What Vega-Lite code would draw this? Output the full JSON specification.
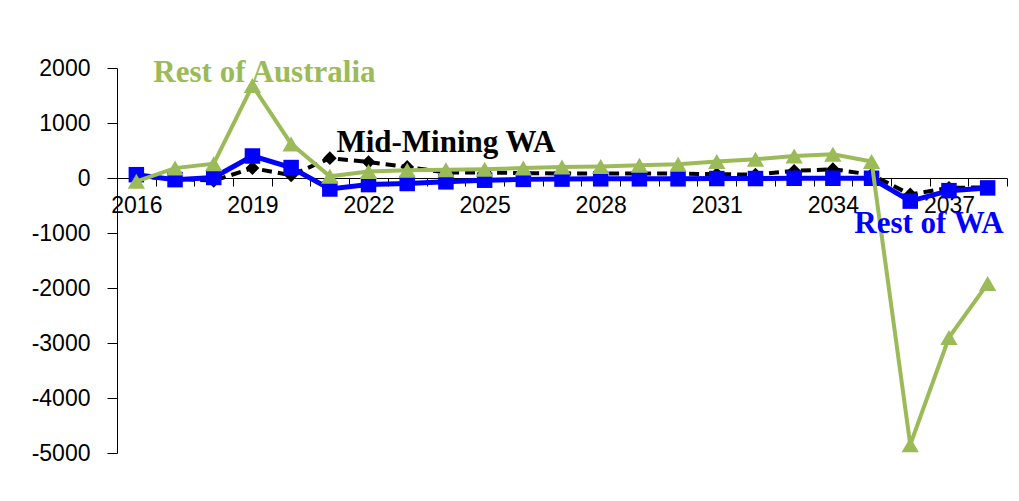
{
  "$schema": "https://vega.github.io/schema/vega-lite/v6.json",
  "width": 890,
  "height": 385,
  "autosize": {"type": "none"},
  "padding": {"left": 117, "top": 68, "right": 12, "bottom": 48},
  "background": "white",
  "config": {"view": {"stroke": null}, "font": "Liberation Sans"},
  "data": {
    "values": [
      {"year": "2016", "series": "Rest of Australia", "value": -60},
      {"year": "2017", "series": "Rest of Australia", "value": 180},
      {"year": "2018", "series": "Rest of Australia", "value": 260},
      {"year": "2019", "series": "Rest of Australia", "value": 1680},
      {"year": "2020", "series": "Rest of Australia", "value": 620},
      {"year": "2021", "series": "Rest of Australia", "value": 30},
      {"year": "2022", "series": "Rest of Australia", "value": 120},
      {"year": "2023", "series": "Rest of Australia", "value": 140},
      {"year": "2024", "series": "Rest of Australia", "value": 150},
      {"year": "2025", "series": "Rest of Australia", "value": 160},
      {"year": "2026", "series": "Rest of Australia", "value": 180},
      {"year": "2027", "series": "Rest of Australia", "value": 200},
      {"year": "2028", "series": "Rest of Australia", "value": 210},
      {"year": "2029", "series": "Rest of Australia", "value": 230},
      {"year": "2030", "series": "Rest of Australia", "value": 250},
      {"year": "2031", "series": "Rest of Australia", "value": 300},
      {"year": "2032", "series": "Rest of Australia", "value": 340},
      {"year": "2033", "series": "Rest of Australia", "value": 400},
      {"year": "2034", "series": "Rest of Australia", "value": 430},
      {"year": "2035", "series": "Rest of Australia", "value": 300},
      {"year": "2036", "series": "Rest of Australia", "value": -4850},
      {"year": "2037", "series": "Rest of Australia", "value": -2900},
      {"year": "2038", "series": "Rest of Australia", "value": -1920},
      {"year": "2016", "series": "Rest of WA", "value": 60},
      {"year": "2017", "series": "Rest of WA", "value": -30},
      {"year": "2018", "series": "Rest of WA", "value": 10},
      {"year": "2019", "series": "Rest of WA", "value": 400},
      {"year": "2020", "series": "Rest of WA", "value": 190},
      {"year": "2021", "series": "Rest of WA", "value": -200},
      {"year": "2022", "series": "Rest of WA", "value": -120},
      {"year": "2023", "series": "Rest of WA", "value": -100},
      {"year": "2024", "series": "Rest of WA", "value": -70},
      {"year": "2025", "series": "Rest of WA", "value": -40},
      {"year": "2026", "series": "Rest of WA", "value": -25},
      {"year": "2027", "series": "Rest of WA", "value": -20},
      {"year": "2028", "series": "Rest of WA", "value": -15},
      {"year": "2029", "series": "Rest of WA", "value": -15},
      {"year": "2030", "series": "Rest of WA", "value": -15},
      {"year": "2031", "series": "Rest of WA", "value": -10},
      {"year": "2032", "series": "Rest of WA", "value": -10},
      {"year": "2033", "series": "Rest of WA", "value": -5},
      {"year": "2034", "series": "Rest of WA", "value": -5},
      {"year": "2035", "series": "Rest of WA", "value": -5},
      {"year": "2036", "series": "Rest of WA", "value": -420},
      {"year": "2037", "series": "Rest of WA", "value": -230},
      {"year": "2038", "series": "Rest of WA", "value": -180},
      {"year": "2016", "series": "Mid-Mining WA", "value": 20},
      {"year": "2017", "series": "Mid-Mining WA", "value": -10},
      {"year": "2018", "series": "Mid-Mining WA", "value": -50},
      {"year": "2019", "series": "Mid-Mining WA", "value": 180},
      {"year": "2020", "series": "Mid-Mining WA", "value": 50},
      {"year": "2021", "series": "Mid-Mining WA", "value": 360},
      {"year": "2022", "series": "Mid-Mining WA", "value": 290},
      {"year": "2023", "series": "Mid-Mining WA", "value": 200},
      {"year": "2024", "series": "Mid-Mining WA", "value": 100},
      {"year": "2025", "series": "Mid-Mining WA", "value": 100},
      {"year": "2026", "series": "Mid-Mining WA", "value": 90},
      {"year": "2027", "series": "Mid-Mining WA", "value": 80},
      {"year": "2028", "series": "Mid-Mining WA", "value": 80},
      {"year": "2029", "series": "Mid-Mining WA", "value": 80},
      {"year": "2030", "series": "Mid-Mining WA", "value": 80},
      {"year": "2031", "series": "Mid-Mining WA", "value": 70},
      {"year": "2032", "series": "Mid-Mining WA", "value": 60},
      {"year": "2033", "series": "Mid-Mining WA", "value": 130},
      {"year": "2034", "series": "Mid-Mining WA", "value": 160},
      {"year": "2035", "series": "Mid-Mining WA", "value": 60},
      {"year": "2036", "series": "Mid-Mining WA", "value": -300},
      {"year": "2037", "series": "Mid-Mining WA", "value": -180},
      {"year": "2038", "series": "Mid-Mining WA", "value": -170}
    ]
  },
  "encoding": {
    "x": {
      "field": "year",
      "type": "ordinal",
      "scale": {"type": "point", "padding": 0.5},
      "axis": {
        "title": null,
        "orient": "bottom",
        "offset": -275,
        "labelAngle": 0,
        "labelExpr": "(+datum.value - 2016) % 3 == 0 ? datum.label : ''",
        "labelOverlap": false,
        "tickOffset": 19.348,
        "labelOffset": -19.348,
        "tickSize": 8,
        "tickColor": "#000",
        "domainColor": "#000",
        "labelFontSize": 23,
        "labelColor": "#000",
        "labelPadding": 8,
        "grid": false
      }
    },
    "y": {
      "field": "value",
      "type": "quantitative",
      "scale": {"domain": [-5000, 2000], "nice": false, "zero": false},
      "axis": {
        "title": null,
        "values": [-5000, -4000, -3000, -2000, -1000, 0, 1000, 2000],
        "labelExpr": "'' + datum.value",
        "tickSize": 10,
        "labelPadding": 17,
        "labelFontSize": 23,
        "labelColor": "#000",
        "tickColor": "#000",
        "domainColor": "#000",
        "grid": false
      }
    }
  },
  "layer": [
    {
      "transform": [{"filter": "datum.series == 'Mid-Mining WA'"}],
      "mark": {"type": "line", "color": "#000000", "strokeWidth": 4, "strokeDash": [10, 6]}
    },
    {
      "transform": [{"filter": "datum.series == 'Mid-Mining WA'"}],
      "mark": {"type": "point", "shape": "diamond", "filled": true, "color": "#000000", "size": 190, "opacity": 1}
    },
    {
      "transform": [{"filter": "datum.series == 'Rest of WA'"}],
      "mark": {"type": "line", "color": "#0000FF", "strokeWidth": 5}
    },
    {
      "transform": [{"filter": "datum.series == 'Rest of WA'"}],
      "mark": {"type": "point", "shape": "square", "filled": true, "color": "#0000FF", "size": 240, "opacity": 1}
    },
    {
      "transform": [{"filter": "datum.series == 'Rest of Australia'"}],
      "mark": {"type": "line", "color": "#9BBB59", "strokeWidth": 4}
    },
    {
      "transform": [{"filter": "datum.series == 'Rest of Australia'"}],
      "mark": {"type": "point", "shape": "triangle-up", "filled": true, "color": "#9BBB59", "size": 300, "opacity": 1}
    },
    {
      "data": {"values": [{"label": "Rest of Australia", "year": "2016", "value": 1745}]},
      "mark": {"type": "text", "font": "Liberation Serif", "fontWeight": "bold", "fontSize": 31, "color": "#9BBB59", "align": "left", "baseline": "alphabetic", "dx": 17},
      "encoding": {"text": {"field": "label"}}
    },
    {
      "data": {"values": [{"label": "Mid-Mining WA", "year": "2024", "value": 473}]},
      "mark": {"type": "text", "font": "Liberation Serif", "fontWeight": "bold", "fontSize": 31, "color": "#000000", "align": "center", "baseline": "alphabetic"},
      "encoding": {"text": {"field": "label"}}
    },
    {
      "data": {"values": [{"label": "Rest of WA", "year": "2037", "value": -1000}]},
      "mark": {"type": "text", "font": "Liberation Serif", "fontWeight": "bold", "fontSize": 31, "color": "#0000FF", "align": "center", "baseline": "alphabetic", "dx": -20},
      "encoding": {"text": {"field": "label"}}
    }
  ]
}
